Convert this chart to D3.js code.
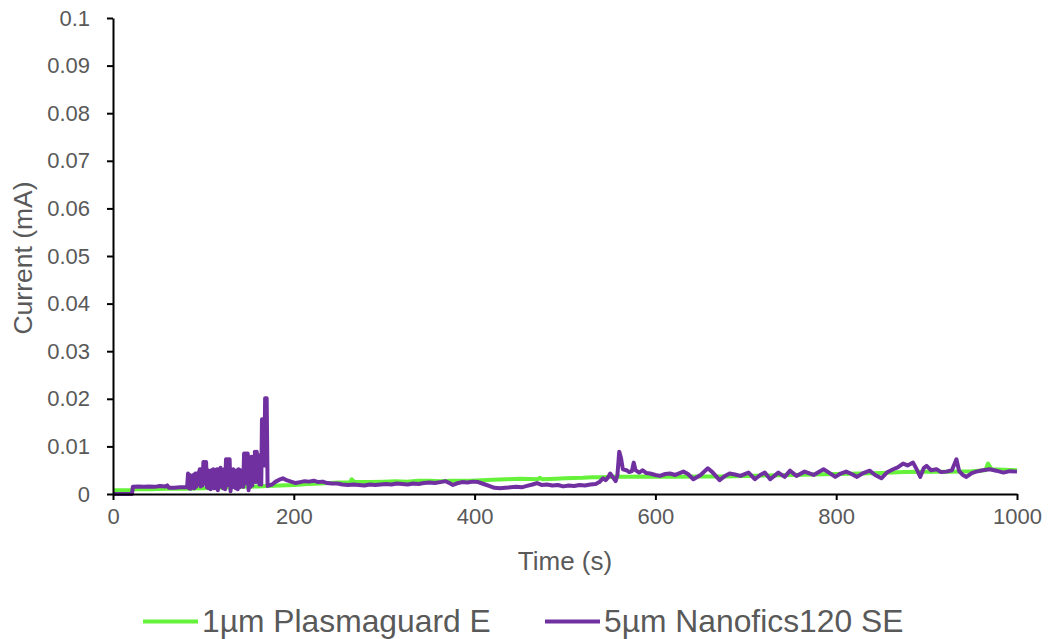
<!DOCTYPE html>
<html>
<head>
<meta charset="utf-8">
<script src="https://cdn.jsdelivr.net/npm/d3@7"></script>
<style>
  html, body { margin: 0; padding: 0; background: #fff; }
  svg { display: block; font-family: "Liberation Sans", Arial, sans-serif; }
</style>
</head>
<body>
<svg id="chart" width="1048" height="639"></svg>
<script>
// Current vs. time for two filter membranes
const seriesNames = ["1µm Plasmaguard E", "5µm Nanofics120 SE"];
const seriesColors = ["#66F23A", "#7030A0"];

// 1µm Plasmaguard E: time (s), current (mA)
const plasmaTime = [0, 22, 23, 40, 60, 80, 100, 120, 140, 160, 170, 185, 200, 215, 230, 250, 262, 264, 267, 285, 300, 312, 325, 338, 350, 362, 375, 395, 408, 420, 435, 450, 470, 472, 475, 490, 500, 520, 530, 540, 555, 570, 585, 600, 625, 650, 675, 700, 725, 750, 775, 800, 825, 850, 875, 900, 925, 950, 965, 968, 972, 985, 1000];
const plasmaCurrent = [0.0008, 0.0008, 0.0010, 0.0010, 0.0011, 0.0011, 0.0012, 0.0013, 0.0015, 0.0016, 0.0017, 0.0018, 0.0019, 0.0021, 0.0022, 0.0024, 0.0024, 0.0031, 0.0025, 0.0025, 0.0026, 0.0027, 0.0026, 0.0028, 0.0028, 0.0027, 0.0028, 0.0028, 0.0029, 0.0030, 0.0031, 0.0032, 0.0031, 0.0034, 0.0031, 0.0032, 0.0033, 0.0034, 0.0035, 0.0035, 0.0036, 0.0036, 0.0037, 0.0036, 0.0036, 0.0037, 0.0037, 0.0038, 0.0039, 0.0040, 0.0041, 0.0042, 0.0043, 0.0044, 0.0046, 0.0047, 0.0047, 0.0048, 0.0050, 0.0064, 0.0052, 0.0051, 0.0050];

// 5µm Nanofics120 SE: time (s), current (mA)
const nanoTime = [0, 21, 22, 28, 34, 40, 46, 52, 58, 60, 62, 68, 74, 80, 82,
  83, 84, 85, 86, 87, 88, 89, 90, 91, 92, 93, 94, 95, 96, 97, 98, 99, 100, 101, 102, 103, 104, 105, 106, 107, 108, 109, 110, 111, 112, 113, 114, 115, 116, 117, 118, 119, 120, 121, 122, 123, 124, 125, 126, 127, 128, 129, 130, 131, 132, 133, 134, 135, 136, 137, 138, 139, 140, 141, 142, 143, 144, 145, 146, 147, 148, 149, 150, 151, 152, 153, 154, 155, 156, 157, 158, 159, 160, 161, 162, 163, 164, 164.8, 166.5, 167.3, 168.3, 170, 171,
  176, 180, 184, 188, 192, 197, 202, 207, 212, 217, 222, 227, 232, 237, 242, 248, 254, 260, 266, 272, 278, 284, 290, 296, 302, 308, 314, 320, 326, 332, 338, 344, 350, 356, 362, 368, 372, 376, 380, 386, 392, 398, 404, 410, 416, 422, 428, 434, 440, 446, 452, 458, 464, 469, 474, 480, 486, 492, 498, 504, 510, 516, 522, 528, 534, 538, 542, 545, 548, 550, 553, 556, 558, 560, 562, 564, 568, 571, 574, 576, 578, 582, 586, 590, 594, 600, 605, 611, 616, 622, 631, 636, 642, 650, 658, 663, 671, 677, 682, 688, 694, 703, 710, 716, 721, 727, 736, 743, 749, 756, 765, 775, 786, 792, 799, 805, 811, 817, 823, 830, 837, 843, 850, 856, 863, 868, 874, 879, 885, 889, 893, 897, 900, 905, 911, 916, 922, 928, 933, 936, 940, 944, 950, 955, 962, 970, 977, 985, 992, 1000];
const nanoCurrent = [0, 0, 0.0015, 0.0016, 0.0015, 0.0016, 0.0015, 0.0017, 0.0016, 0.0018, 0.0013, 0.0013, 0.0014, 0.0014, 0.0015,
  0.0043, 0.0012, 0.0040, 0.0011, 0.0036, 0.0014, 0.0040, 0.0012, 0.0043, 0.0015, 0.0043, 0.0020, 0.0043, 0.0052, 0.0016, 0.0052, 0.0018, 0.0067, 0.0022, 0.0067, 0.0067, 0.0014, 0.0050, 0.0012, 0.0048, 0.0010, 0.0050, 0.0013, 0.0052, 0.0012, 0.0050, 0.0015, 0.0052, 0.0008, 0.0052, 0.0016, 0.0055, 0.0015, 0.0050, 0.0012, 0.0052, 0.0010, 0.0073, 0.0018, 0.0073, 0.0040, 0.0073, 0.0006, 0.0050, 0.0014, 0.0052, 0.0015, 0.0048, 0.0012, 0.0050, 0.0010, 0.0052, 0.0014, 0.0050, 0.0020, 0.0045, 0.0015, 0.0085, 0.0022, 0.0085, 0.0030, 0.0085, 0.0008, 0.0070, 0.0015, 0.0078, 0.0018, 0.0078, 0.0030, 0.0089, 0.0025, 0.0089, 0.0060, 0.0080, 0.0020, 0.0082, 0.0020, 0.0157, 0.0157, 0.0060, 0.0201, 0.0201, 0.0017,
  0.0020, 0.0026, 0.0030, 0.0033, 0.0029, 0.0026, 0.0023, 0.0025, 0.0027, 0.0026, 0.0028, 0.0025, 0.0026, 0.0023, 0.0022, 0.0022, 0.0020, 0.0019, 0.0020, 0.0019, 0.0018, 0.0020, 0.0019, 0.0020, 0.0021, 0.0020, 0.0022, 0.0021, 0.0020, 0.0022, 0.0021, 0.0023, 0.0024, 0.0023, 0.0025, 0.0027, 0.0023, 0.0019, 0.0022, 0.0025, 0.0024, 0.0026, 0.0025, 0.0021, 0.0017, 0.0013, 0.0012, 0.0013, 0.0014, 0.0015, 0.0014, 0.0017, 0.0020, 0.0023, 0.0019, 0.0020, 0.0018, 0.0019, 0.0016, 0.0018, 0.0017, 0.0019, 0.0018, 0.0020, 0.0021, 0.0025, 0.0033, 0.0029, 0.0036, 0.0043, 0.0035, 0.0027, 0.0040, 0.0089, 0.0075, 0.0052, 0.0050, 0.0046, 0.0048, 0.0066, 0.0050, 0.0045, 0.0050, 0.0044, 0.0043, 0.0040, 0.0038, 0.0042, 0.0043, 0.0040, 0.0047, 0.0042, 0.0031, 0.0040, 0.0054, 0.0046, 0.0029, 0.0038, 0.0043, 0.0041, 0.0038, 0.0045, 0.0031, 0.0040, 0.0045, 0.0031, 0.0045, 0.0036, 0.0049, 0.0038, 0.0047, 0.0040, 0.0052, 0.0045, 0.0036, 0.0043, 0.0047, 0.0042, 0.0036, 0.0044, 0.0049, 0.0040, 0.0033, 0.0045, 0.0052, 0.0056, 0.0064, 0.0060, 0.0066, 0.0052, 0.0036, 0.0055, 0.0059, 0.0050, 0.0052, 0.0046, 0.0047, 0.0050, 0.0073, 0.0048, 0.0040, 0.0036, 0.0044, 0.0047, 0.0050, 0.0052, 0.0049, 0.0045, 0.0048, 0.0047];

const xTicks = [0, 200, 400, 600, 800, 1000];
const yTicks = [0, 0.01, 0.02, 0.03, 0.04, 0.05, 0.06, 0.07, 0.08, 0.09, 0.1];

const svg = d3.select("#chart");
const textColor = "#595959";
const margin = { left: 113, right: 31, top: 18, bottom: 145 };
const W = 1048, H = 639;

const x = d3.scaleLinear().domain([0, 1000]).range([margin.left, W - margin.right]);
const y = d3.scaleLinear().domain([0, 0.1]).range([H - margin.bottom, margin.top]);

const series = [
  plasmaTime.map((t, i) => [t, plasmaCurrent[i]]),
  nanoTime.map((t, i) => [t, nanoCurrent[i]])
];

const line = d3.line().x(d => x(d[0])).y(d => y(d[1]));

series.forEach((pts, i) => {
  svg.append("path")
    .datum(pts)
    .attr("fill", "none")
    .attr("stroke", seriesColors[i])
    .attr("stroke-width", 4)
    .attr("stroke-linejoin", "round")
    .attr("d", line);
});

// Axes
const fmtY = d => d === 0 ? "0" : String(+d.toFixed(2));
const yAxis = svg.append("g")
  .attr("transform", `translate(${margin.left},0)`)
  .call(d3.axisLeft(y).tickValues(yTicks).tickFormat(fmtY).tickSize(6).tickPadding(17).tickSizeOuter(0));
const xAxis = svg.append("g")
  .attr("transform", `translate(0,${y(0)})`)
  .call(d3.axisBottom(x).tickValues(xTicks).tickFormat(d3.format("d")).tickSize(6).tickPadding(8).tickSizeOuter(0));

[xAxis, yAxis].forEach(g => {
  g.select(".domain").attr("stroke", "#000").attr("stroke-width", 2);
  g.selectAll(".tick line").attr("stroke", "#000").attr("stroke-width", 2);
  g.selectAll(".tick text")
    .attr("fill", textColor)
    .style("font-size", "22px")
    .style("font-family", "'Liberation Sans', Arial, sans-serif");
});

// Axis titles
svg.append("text")
  .attr("x", 565)
  .attr("y", 570)
  .attr("text-anchor", "middle")
  .attr("fill", textColor)
  .style("font-size", "26px")
  .text("Time (s)");

svg.append("text")
  .attr("transform", `translate(32,258) rotate(-90)`)
  .attr("text-anchor", "middle")
  .attr("fill", textColor)
  .style("font-size", "26.5px")
  .text("Current (mA)");

// Legend
const legendItems = [
  { x0: 143, name: seriesNames[0], color: seriesColors[0] },
  { x0: 545, name: seriesNames[1], color: seriesColors[1] }
];
const legend = svg.append("g");
legendItems.forEach(it => {
  legend.append("line")
    .attr("x1", it.x0).attr("x2", it.x0 + 55)
    .attr("y1", 621.5).attr("y2", 621.5)
    .attr("stroke", it.color).attr("stroke-width", 4);
  legend.append("text")
    .attr("x", it.x0 + 59)
    .attr("y", 632)
    .attr("fill", textColor)
    .style("font-size", "31.8px")
    .text(it.name);
});
</script>
</body>
</html>
